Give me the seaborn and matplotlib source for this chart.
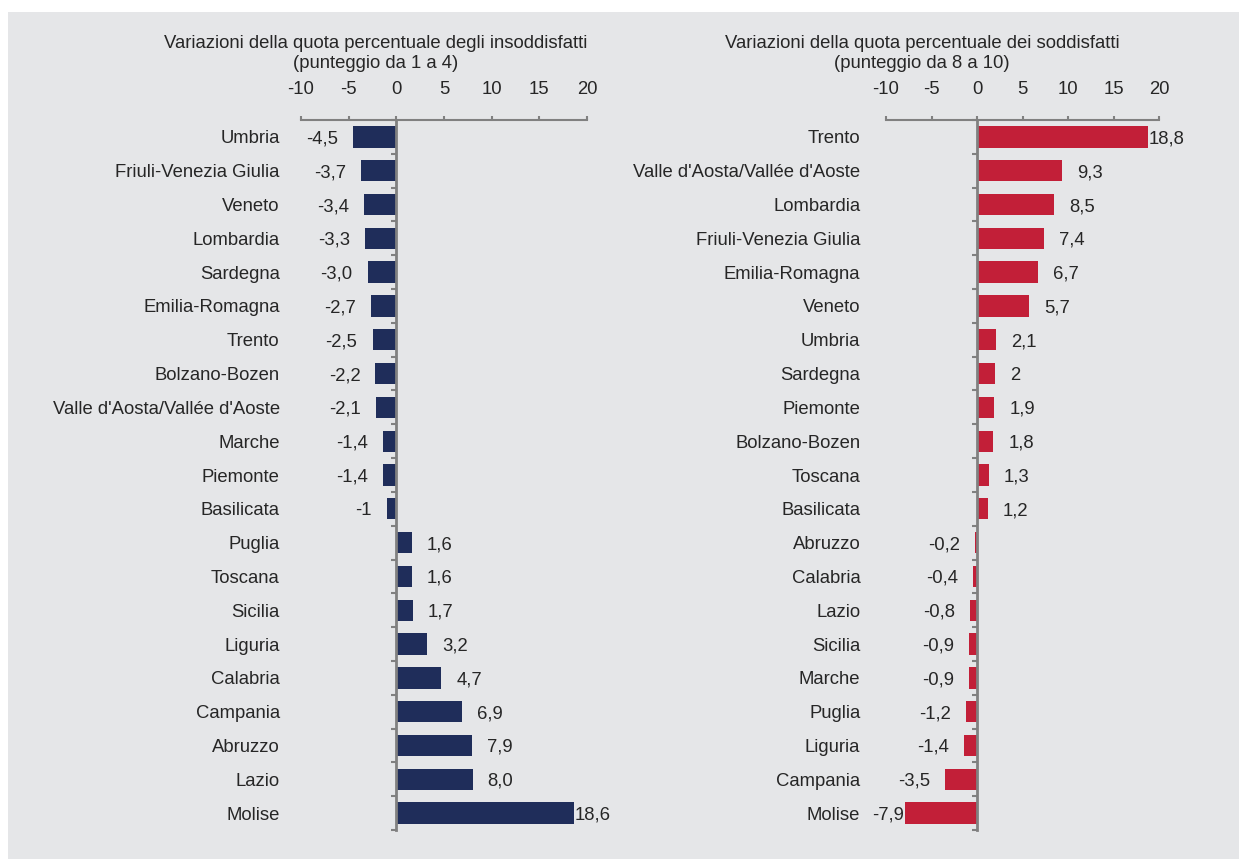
import matplotlib
matplotlib.use("Agg")
import matplotlib.pyplot as plt
from matplotlib.patches import Rectangle
from matplotlib.ticker import FixedLocator
import pandas as pd
import seaborn as sns

# Regional changes in the share of dissatisfied respondents (score 1-4)
regions_insoddisfatti = [
    "Umbria", "Friuli-Venezia Giulia", "Veneto", "Lombardia", "Sardegna",
    "Emilia-Romagna", "Trento", "Bolzano-Bozen", "Valle d'Aosta/Vallée d'Aoste",
    "Marche", "Piemonte", "Basilicata", "Puglia", "Toscana", "Sicilia",
    "Liguria", "Calabria", "Campania", "Abruzzo", "Lazio", "Molise",
]
labels_insoddisfatti = [
    "-4,5", "-3,7", "-3,4", "-3,3", "-3,0", "-2,7", "-2,5", "-2,2", "-2,1",
    "-1,4", "-1,4", "-1", "1,6", "1,6", "1,7", "3,2", "4,7", "6,9", "7,9",
    "8,0", "18,6",
]

# Regional changes in the share of satisfied respondents (score 8-10)
regions_soddisfatti = [
    "Trento", "Valle d'Aosta/Vallée d'Aoste", "Lombardia", "Friuli-Venezia Giulia",
    "Emilia-Romagna", "Veneto", "Umbria", "Sardegna", "Piemonte", "Bolzano-Bozen",
    "Toscana", "Basilicata", "Abruzzo", "Calabria", "Lazio", "Sicilia", "Marche",
    "Puglia", "Liguria", "Campania", "Molise",
]
labels_soddisfatti = [
    "18,8", "9,3", "8,5", "7,4", "6,7", "5,7", "2,1", "2", "1,9", "1,8",
    "1,3", "1,2", "-0,2", "-0,4", "-0,8", "-0,9", "-0,9", "-1,2", "-1,4",
    "-3,5", "-7,9",
]

titles = [
    ("Variazioni della quota percentuale degli insoddisfatti", "(punteggio da 1 a 4)"),
    ("Variazioni della quota percentuale dei soddisfatti", "(punteggio da 8 a 10)"),
]
x_ticks = [-10, -5, 0, 5, 10, 15, 20]

NAVY = "#1f2d5a"
RED = "#c21f38"
BG = "#e5e6e8"
SPINE = "#808080"
TEXT = "#262626"
FS = 13.3

sns.set_theme(style="white")
plt.rcParams["font.family"] = ["Liberation Sans", "DejaVu Sans"]
plt.rcParams["font.size"] = FS

W, H = 1239, 859
fig = plt.figure(figsize=(W / 100, H / 100), dpi=100)
fig.patch.set_facecolor("white")
fig.patches.append(Rectangle((8 / W, 0), 1, 1 - 12 / H, transform=fig.transFigure,
                             facecolor=BG, edgecolor="none", zorder=-10))


def to_num(s):
    return float(s.replace(",", "."))


def panel(rect, regions, labels, color, title, title_x):
    ax = fig.add_axes(rect)
    ax.set_facecolor("none")
    df = pd.DataFrame({"regione": regions, "valore": [to_num(s) for s in labels]})
    sns.barplot(data=df, x="valore", y="regione", order=regions, orient="h",
                color=color, saturation=1, width=0.63, linewidth=0, ax=ax)
    ax.set_xlim(-10, 20)
    ax.set_ylim(len(regions) - 0.5, -0.5)
    ax.set_xlabel("")
    ax.set_ylabel("")

    # x axis along the top
    ax.xaxis.tick_top()
    ax.set_xticks(x_ticks)
    ax.set_xticklabels([str(t) for t in x_ticks])
    ax.tick_params(axis="x", which="major", direction="out", length=3, width=1.5,
                   color=SPINE, pad=13, labelsize=FS, labelcolor=TEXT)

    # y axis sitting on zero, ticks between categories
    for side in ("right", "bottom"):
        ax.spines[side].set_visible(False)
    ax.spines["top"].set_color(SPINE)
    ax.spines["top"].set_linewidth(1.5)
    ax.spines["left"].set_position(("data", 0))
    ax.spines["left"].set_color(SPINE)
    ax.spines["left"].set_linewidth(2)
    ax.spines["left"].set_zorder(5)
    ax.yaxis.set_minor_locator(FixedLocator([i - 0.5 for i in range(len(regions) + 1)]))
    ax.tick_params(axis="y", which="major", length=0, pad=84, labelsize=FS,
                   labelcolor=TEXT)
    ax.tick_params(axis="y", which="minor", direction="out", length=3.5, width=1.5,
                   color=SPINE, left=True)

    for i, (lab, v) in enumerate(zip(labels, df["valore"])):
        room = (20 - v) if v >= 0 else (v + 10)
        gap = 15 if room > 3 else 1
        sign = 1 if v >= 0 else -1
        ax.annotate(lab, xy=(v, i), xytext=(sign * gap, 0), textcoords="offset pixels",
                    ha="left" if v >= 0 else "right", va="center_baseline",
                    fontsize=FS, color=TEXT)

    fig.text(title_x / W, 1 - 44 / H, title[0], ha="center", va="center",
             fontsize=FS, color=TEXT)
    fig.text(title_x / W, 1 - 63 / H, title[1], ha="center", va="center",
             fontsize=FS, color=TEXT)
    return ax


top = 1 - 120 / H
bottom = 1 - 830 / H
panel([301 / W, bottom, (587 - 301) / W, top - bottom], regions_insoddisfatti,
      labels_insoddisfatti, NAVY, titles[0], 376)
panel([886 / W, bottom, (1159 - 886) / W, top - bottom], regions_soddisfatti,
      labels_soddisfatti, RED, titles[1], 922)

fig.savefig("out.png", dpi=100, facecolor=fig.get_facecolor())
